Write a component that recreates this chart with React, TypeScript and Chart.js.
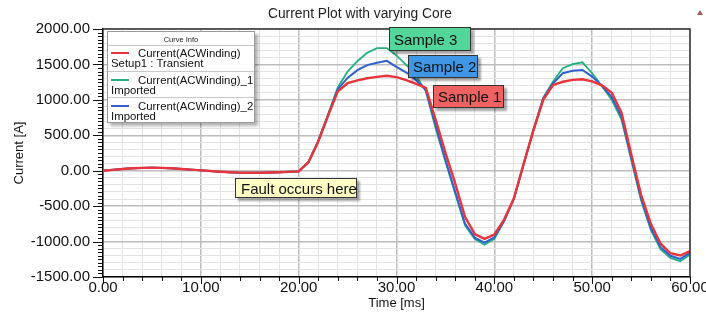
import React, { useEffect, useRef } from "react";
import { Chart, registerables } from "chart.js";

Chart.register(...registerables);

const timeMs = [
  0, 1, 2, 3, 4, 5, 6, 7, 8, 9, 10, 11, 12, 13, 14, 15, 16, 17, 18, 19, 20,
  21, 22, 23, 24, 25, 26, 27, 28, 29, 30, 31, 32, 33, 34, 35, 36, 37, 38, 39, 40,
  41, 42, 43, 44, 45, 46, 47, 48, 49, 50, 51, 52, 53, 54, 55, 56, 57, 58, 59, 60,
];

const preFault = [0, 12, 25, 35, 40, 42, 40, 34, 25, 15, 5, -5, -15, -22, -27, -28, -28, -26, -22, -16, -10];

const sample1Post = [
  120, 410, 775, 1120, 1235, 1275, 1305, 1325, 1340, 1320, 1280, 1225, 1170, 720, 255, -180, -650, -895, -962, -900,
  -690, -390, 100, 570, 1000, 1210, 1255, 1282, 1291, 1262, 1205, 1100, 820, 230, -340, -750, -1030, -1165, -1197, -1136,
];
const sample3Post = [
  125, 425, 795, 1175, 1400, 1545, 1665, 1730, 1730, 1625, 1495, 1340, 1120, 600, 130, -320, -770, -965, -1045, -960,
  -715, -400, 90, 580, 1030, 1258, 1446, 1505, 1530, 1376, 1195, 1000, 720, 150, -420, -840, -1110, -1230, -1277, -1183,
];
const sample2Post = [
  122, 418, 785, 1150, 1310, 1420, 1490, 1525, 1550, 1465, 1385, 1280, 1140, 640, 155, -300, -745, -945, -1015, -940,
  -705, -395, 95, 575, 1020, 1232, 1376, 1412, 1422, 1328, 1195, 1040, 760, 180, -390, -810, -1080, -1200, -1244, -1160,
];

const sample1 = [...preFault, ...sample1Post];
const sample2 = [...preFault, ...sample2Post];
const sample3 = [...preFault, ...sample3Post];

const seriesNames = ["Current(ACWinding)", "Current(ACWinding)_1", "Current(ACWinding)_2"];
const seriesSub = ["Setup1 : Transient", "Imported", "Imported"];
const seriesColors = ["#e8343a", "#22b07d", "#2f5fd0"];

const FONT = "'Liberation Sans', Arial, sans-serif";

const frameAndTicks = {
  id: "frameAndTicks",
  afterDraw(chart: any) {
    const { ctx, chartArea, scales } = chart;
    const ys = scales.y;
    const xs = scales.x;
    ctx.save();
    ctx.strokeStyle = "#111";
    ctx.lineWidth = 1;
    for (let v = -1500; v <= 2000; v += 50) {
      const p = Math.round(ys.getPixelForValue(v)) + 0.5;
      const len = v % 500 === 0 ? 10 : 5;
      ctx.beginPath();
      ctx.moveTo(chartArea.left - len, p);
      ctx.lineTo(chartArea.left, p);
      ctx.stroke();
    }
    for (let v = 0; v <= 60; v += 2) {
      const p = Math.round(xs.getPixelForValue(v)) + 0.5;
      const len = v % 10 === 0 ? 7 : 4;
      ctx.beginPath();
      ctx.moveTo(p, chartArea.bottom);
      ctx.lineTo(p, chartArea.bottom + len);
      ctx.stroke();
    }
    ctx.strokeStyle = "#333";
    ctx.lineWidth = 1.5;
    ctx.beginPath();
    ctx.moveTo(chartArea.left, chartArea.top);
    ctx.lineTo(chartArea.right, chartArea.top);
    ctx.lineTo(chartArea.right, chartArea.bottom);
    ctx.stroke();
    ctx.restore();
  },
};

export default function App() {
  const ref = useRef<HTMLCanvasElement>(null);

  useEffect(() => {
    if (!ref.current) return;
    const mk = (label: string, data: number[], color: string, w: number) => ({
      label,
      data: timeMs.map((t, i) => ({ x: t, y: data[i] })),
      borderColor: color,
      backgroundColor: color,
      borderWidth: w,
      pointRadius: 0,
      tension: 0,
      fill: false,
    });
    const chart = new Chart(ref.current, {
      type: "line",
      data: {
        datasets: [
          mk(seriesNames[0], sample1, seriesColors[0], 2.4),
          mk(seriesNames[2], sample2, seriesColors[2], 2),
          mk(seriesNames[1], sample3, seriesColors[1], 1.8),
        ],
      },
      plugins: [frameAndTicks],
      options: {
        responsive: false,
        animation: false,
        devicePixelRatio: 1,
        layout: { padding: { top: 29, right: 16, left: 0, bottom: 0 } },
        plugins: {
          legend: { display: false },
          title: { display: false },
          tooltip: { enabled: false },
        },
        scales: {
          x: {
            type: "linear",
            min: 0,
            max: 60,
            afterFit: (s: any) => {
              s.height = 35;
              s.paddingRight = 0;
              s.paddingLeft = 0;
            },
            ticks: {
              stepSize: 2,
              autoSkip: false,
              maxRotation: 0,
              padding: 2,
              color: "#111",
              font: { family: FONT, size: 15 },
              callback: (v: any) => (Number(v) % 10 === 0 ? Number(v).toFixed(2) : ""),
            },
            grid: {
              drawTicks: false,
              color: (c: any) => (c.tick && c.tick.value % 10 === 0 ? "#bdbdbd" : "#e3e3e3"),
              lineWidth: (c: any) => (c.tick && c.tick.value % 10 === 0 ? 1.5 : 1),
            },
            border: { display: true, color: "#000", width: 1.5 },
            title: {
              display: true,
              text: "Time [ms]",
              color: "#111",
              font: { family: FONT, size: 13 },
              padding: { top: 0, bottom: 1 },
            },
          },
          y: {
            type: "linear",
            min: -1500,
            max: 2000,
            afterFit: (s: any) => {
              s.width = 103;
              s.paddingTop = 0;
              s.paddingBottom = 0;
            },
            ticks: {
              stepSize: 100,
              autoSkip: false,
              padding: 13,
              color: "#111",
              font: { family: FONT, size: 15 },
              callback: (v: any) => (Number(v) % 500 === 0 ? Number(v).toFixed(2) : ""),
            },
            grid: {
              drawTicks: false,
              color: (c: any) => (c.tick && c.tick.value % 500 === 0 ? "#bdbdbd" : "#e3e3e3"),
              lineWidth: (c: any) => (c.tick && c.tick.value % 500 === 0 ? 1.5 : 1),
            },
            border: { display: true, color: "#000", width: 1.5 },
            title: {
              display: true,
              text: "Current [A]",
              color: "#111",
              font: { family: FONT, size: 13 },
              padding: { top: 12, bottom: 0 },
            },
          },
        },
      },
    } as any);
    return () => chart.destroy();
  }, []);

  const abs = (s: React.CSSProperties): React.CSSProperties => ({ position: "absolute", ...s });
  const box = (left: number, top: number, w: number, h: number, bg: string, pl: number, size: number): React.CSSProperties =>
    abs({
      left,
      top,
      width: w,
      height: h,
      boxSizing: "border-box",
      background: bg,
      border: "1px solid #333",
      boxShadow: "3px 3px 2px rgba(0,0,0,0.35)",
      paddingLeft: pl,
      display: "flex",
      alignItems: "center",
      fontSize: size,
      color: "#111",
      whiteSpace: "nowrap",
    });

  const legendText = (top: number, left: number, text: string, k: string) => (
    <div key={k} style={abs({ top: top - 6, left, fontSize: 11.4, lineHeight: "12px", whiteSpace: "nowrap", color: "#111" })}>
      {text}
    </div>
  );
  const rowLine = [53, 79.7, 105.7];
  const rowSub = [63.3, 90, 116];
  const dividers = [44.7, 70.7, 97.3];

  return (
    <div style={abs({ left: 0, top: 0, width: 706, height: 312, background: "#fff", fontFamily: FONT, overflow: "hidden" })}>
      <canvas ref={ref} width={706} height={312} style={{ display: "block", width: 706, height: 312 }} />
      <div style={abs({ left: 240, top: 6, width: 240, textAlign: "center", fontSize: 13.8, lineHeight: "16px", color: "#222" })}>
        Current Plot with varying Core
      </div>
      <div style={abs({ left: 697, top: 10, width: 0, height: 0, borderLeft: "3px solid transparent", borderRight: "3px solid transparent", borderBottom: "5px solid #a65a5a" })} />
      <div
        style={abs({
          left: 107,
          top: 31,
          width: 148,
          height: 92,
          boxSizing: "border-box",
          background: "#fff",
          border: "1px solid #9a9a9a",
          boxShadow: "3px 3px 3px rgba(0,0,0,0.3)",
        })}
      >
        <div style={abs({ left: 0, top: 3, width: 146, textAlign: "center", fontSize: 7.5, lineHeight: "9px", color: "#222" })}>Curve Info</div>
        {dividers.map((d, i) => (
          <div key={"d" + i} style={abs({ left: 0, top: d - 32, width: 146, height: 0, borderTop: "1px solid #c8c8c8" })} />
        ))}
        {seriesNames.map((n, i) => (
          <React.Fragment key={n}>
            <div style={abs({ left: 3, top: rowLine[i] - 32 - 1, width: 18, height: 2, background: seriesColors[i] })} />
            {legendText(rowLine[i] - 32, 30, n, "n" + i)}
            {legendText(rowSub[i] - 32, 3, seriesSub[i], "s" + i)}
          </React.Fragment>
        ))}
      </div>
      <div style={box(389, 27, 82, 24, "#52d69a", 4, 15)}>Sample 3</div>
      <div style={box(408, 55, 70, 23, "#3f97e6", 4, 15)}>Sample 2</div>
      <div style={box(433, 85, 71, 23, "#f06262", 4, 15)}>Sample 1</div>
      <div style={box(235, 178, 122, 20, "#ffffc6", 5, 15)}>Fault occurs here</div>
    </div>
  );
}
